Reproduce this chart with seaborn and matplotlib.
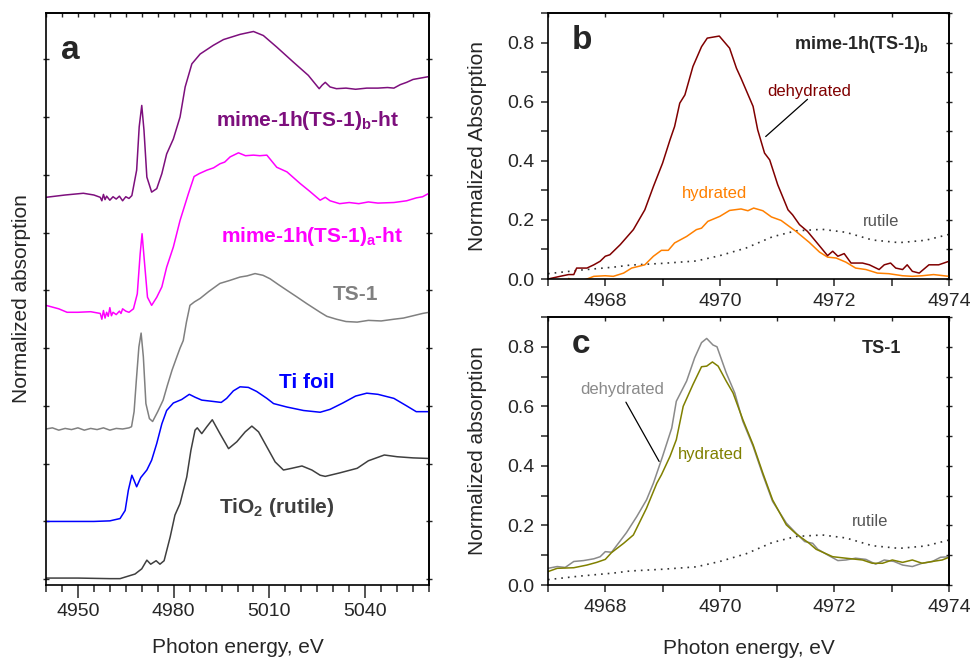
import numpy as np
import pandas as pd
import matplotlib
matplotlib.use("Agg")
import matplotlib.pyplot as plt
from matplotlib.ticker import MultipleLocator, FixedLocator, NullFormatter, FormatStrFormatter
import seaborn as sns

# ---------------- data: panel a (Ti K-edge XANES, offset curves) ----------------
rutile_a_E = [4940, 4950, 4960, 4963.2, 4967.9, 4970.0, 4971.6, 4972.8, 4974.5, 4975.7, 4977.0,
              4978.9, 4980.4, 4982.0, 4984.1, 4985.4, 4986.7, 4987.4, 4988.8, 4990.4, 4992.1,
              4994.5, 4997.2, 4999.8, 5002.4, 5004.5, 5006.6, 5009.2, 5011.8, 5014.4, 5017.0,
              5020.2, 5023.3, 5025.9, 5027.5, 5032, 5037.5, 5041, 5046, 5050, 5055, 5060]
rutile_a_y = [0.02, 0.02, 0.01, 0.01, 0.09, 0.18, 0.33, 0.26, 0.32, 0.26, 0.32,
              0.73, 1.11, 1.31, 1.77, 2.23, 2.58, 2.62, 2.52, 2.64, 2.76,
              2.52, 2.26, 2.38, 2.55, 2.65, 2.55, 2.29, 2.03, 1.89, 1.92,
              1.96, 1.89, 1.8, 1.78, 1.84, 1.92, 2.05, 2.15, 2.12, 2.1, 2.09]

tifoil_E = [4940, 4955, 4960, 4963.2, 4964.8, 4965.8, 4966.9, 4967.6, 4968.4, 4969.7, 4971.6,
            4973.1, 4974.7, 4976.3, 4977.8, 4979.9, 4982.5, 4984.9, 4986.7, 4988.8, 4991.9,
            4994.9, 4996.6, 4998.7, 5000.8, 5003.4, 5006.0, 5009.2, 5011.3, 5015.5, 5020.7,
            5025.9, 5029, 5033, 5037, 5040.5, 5044, 5049, 5053, 5056, 5060]
tifoil_y = [1.0, 1.0, 1.01, 1.05, 1.19, 1.54, 1.8, 1.71, 1.6, 1.76, 1.89,
            2.06, 2.35, 2.69, 2.92, 3.05, 3.11, 3.2, 3.15, 3.1, 3.08,
            3.06, 3.13, 3.26, 3.33, 3.32, 3.25, 3.13, 3.04, 2.98, 2.92,
            2.89, 2.94, 3.05, 3.17, 3.22, 3.2, 3.13, 3.0, 2.9, 2.9]

ts1_E = [4940, 4942, 4944, 4946, 4948, 4950, 4952, 4954, 4956, 4958, 4960, 4962, 4964, 4966,
         4966.8, 4967.6, 4968.3, 4969.1, 4969.8, 4970.5, 4971.3, 4972.4, 4973.4, 4975, 4976.7,
         4978, 4979.5, 4981, 4982, 4983.0, 4984.0, 4985.1, 4986.5, 4988.3, 4991, 4994.5,
         4997.5, 5000.8, 5003, 5005.5, 5008, 5010.2, 5012.8, 5015.5, 5018.5, 5021.7, 5025.9,
         5028, 5031, 5034, 5037.5, 5041, 5045, 5049, 5052, 5055, 5058, 5060]
ts1_y = [2.6, 2.62, 2.58, 2.61, 2.59, 2.62, 2.58, 2.61, 2.59, 2.62, 2.58, 2.61, 2.6, 2.62,
         2.64, 2.9, 3.44, 4.02, 4.26, 3.85, 3.04, 2.78, 2.73, 2.9, 3.1,
         3.35, 3.62, 3.85, 4.0, 4.13, 4.45, 4.74, 4.8, 4.86, 4.98, 5.12,
         5.17, 5.23, 5.25, 5.29, 5.26, 5.2, 5.1, 5.0, 4.89, 4.77, 4.62,
         4.55, 4.5, 4.46, 4.45, 4.48, 4.47, 4.5, 4.52, 4.56, 4.6, 4.62]

mimea_E = [4940, 4944, 4946.6, 4950, 4954, 4957, 4957.5, 4958, 4958.5, 4959, 4959.5, 4960,
           4960.5, 4961, 4962, 4963, 4963.5, 4964, 4965, 4966, 4967.4, 4968.6, 4969.5,
           4970.1, 4970.8, 4971.8, 4973.1, 4974.7, 4976.3, 4977.8, 4979.9, 4982.0, 4984.6,
           4986.4, 4988, 4990.4, 4992.5, 4994.5, 4996, 4997.7, 5000.3, 5002.5, 5005.0, 5007,
           5009.2, 5012.3, 5015.5, 5019.6, 5022.5, 5025.9, 5027.5, 5029, 5032, 5035, 5038,
           5041, 5044, 5049, 5053, 5056, 5058, 5060]
mimea_y = [4.74, 4.68, 4.62, 4.62, 4.63, 4.6, 4.5, 4.65, 4.52, 4.62, 4.55, 4.7,
           4.56, 4.62, 4.58, 4.64, 4.6, 4.68, 4.64, 4.62, 4.68, 4.94, 5.63,
           5.98, 5.52, 4.88, 4.74, 4.88, 5.06, 5.4, 5.75, 6.21, 6.67,
           6.97, 7.02, 7.08, 7.12, 7.19, 7.22, 7.31, 7.38, 7.33, 7.34, 7.33,
           7.34, 7.13, 7.05, 6.85, 6.72, 6.56, 6.61, 6.55, 6.5, 6.52, 6.5,
           6.53, 6.51, 6.52, 6.55, 6.6, 6.62, 6.68]

mimeb_E = [4940, 4946, 4951.7, 4955, 4957, 4957.5, 4958, 4958.5, 4959, 4960, 4961, 4962, 4963,
           4964, 4965, 4966, 4966.9, 4968.4, 4969.2, 4970.0, 4970.7, 4971.6, 4973.1, 4974.7,
           4976.3, 4977.8, 4979.9, 4982.0, 4983.6, 4985.7, 4988.3, 4992.4, 4995.6, 5000.8,
           5005.0, 5008.1, 5012.3, 5017.5, 5022.2, 5024.7, 5025.6, 5026.5, 5027.5, 5029, 5031,
           5034, 5037, 5040.5, 5044, 5047, 5049, 5051, 5053, 5055, 5058, 5060]
mimeb_y = [6.61, 6.65, 6.68, 6.65, 6.61, 6.55, 6.66, 6.57, 6.63, 6.56, 6.62, 6.58, 6.63,
           6.55, 6.62, 6.59, 6.64, 7.08, 7.83, 8.2, 7.77, 6.96, 6.7, 6.76,
           7.02, 7.36, 7.62, 8.0, 8.52, 8.92, 9.09, 9.24, 9.34, 9.43,
           9.48, 9.41, 9.21, 8.95, 8.72, 8.55, 8.49, 8.55, 8.6, 8.52, 8.49,
           8.5, 8.48, 8.5, 8.5, 8.51, 8.5, 8.56, 8.6, 8.65, 8.68, 8.7]

# ---------------- data: pre-edge region, panels b and c ----------------
rut_E = [4967, 4967.56, 4968.14, 4968.43, 4969.01, 4969.59, 4970, 4970.46, 4970.92, 4971.33,
         4971.79, 4972.2, 4972.66, 4973.13, 4973.59, 4974]
rut_y = [0.018, 0.03, 0.04, 0.047, 0.053, 0.061, 0.079, 0.105, 0.143, 0.163,
         0.168, 0.158, 0.132, 0.123, 0.131, 0.151]

b_deh_E = [4967, 4967.21, 4967.36, 4967.45, 4967.5, 4967.68, 4967.8, 4967.91, 4968.0, 4968.08,
           4968.26, 4968.49, 4968.69, 4968.84, 4969.0, 4969.13, 4969.21, 4969.3, 4969.39, 4969.53,
           4969.68, 4969.78, 4969.99, 4970.17, 4970.29, 4970.37, 4970.58, 4970.66, 4970.78,
           4970.87, 4971.01, 4971.19, 4971.27, 4971.39, 4971.53, 4971.65, 4971.77, 4971.88,
           4971.97, 4972.06, 4972.17, 4972.29, 4972.49, 4972.61, 4972.78, 4972.87, 4972.98,
           4973.07, 4973.19, 4973.27, 4973.36, 4973.48, 4973.65, 4973.82, 4973.91, 4974.0]
b_deh_y = [0.0, 0.009, 0.015, 0.015, 0.037, 0.037, 0.048, 0.06, 0.077, 0.082,
           0.116, 0.167, 0.234, 0.313, 0.392, 0.471, 0.516, 0.595, 0.623, 0.719,
           0.786, 0.815, 0.822, 0.781, 0.713, 0.679, 0.584, 0.505, 0.426,
           0.403, 0.319, 0.234, 0.217, 0.184, 0.161, 0.133, 0.105, 0.079,
           0.094, 0.077, 0.086, 0.054, 0.054, 0.048, 0.032, 0.048, 0.054,
           0.037, 0.032, 0.048, 0.026, 0.02, 0.048, 0.048, 0.054, 0.06]

b_hyd_E = [4967.36, 4967.42, 4967.6, 4967.68, 4967.8, 4968.0, 4968.14, 4968.32, 4968.46, 4968.69,
           4968.84, 4968.98, 4969.1, 4969.21, 4969.42, 4969.59, 4969.68, 4969.79, 4970.0,
           4970.17, 4970.37, 4970.49, 4970.59, 4970.75, 4970.9, 4971.07, 4971.33, 4971.56,
           4971.74, 4971.88, 4972.03, 4972.2, 4972.37, 4972.55, 4972.75, 4972.95, 4973.19,
           4973.36, 4973.53, 4973.73, 4974]
b_hyd_y = [0.002, -0.005, -0.005, 0.0, 0.009, 0.011, 0.009, 0.02, 0.037, 0.048,
           0.077, 0.097, 0.097, 0.122, 0.144, 0.167, 0.172, 0.195, 0.212,
           0.232, 0.237, 0.231, 0.24, 0.231, 0.21, 0.198, 0.161, 0.124,
           0.091, 0.074, 0.071, 0.057, 0.037, 0.032, 0.02, 0.018, 0.011,
           0.009, 0.011, 0.015, 0.009]

c_deh_E = [4967, 4967.16, 4967.3, 4967.45, 4967.62, 4967.8, 4967.91, 4968.0, 4968.11, 4968.26,
           4968.37, 4968.55, 4968.72, 4968.84, 4969.0, 4969.16, 4969.24, 4969.42, 4969.56,
           4969.68, 4969.77, 4969.88, 4969.95, 4970.11, 4970.26, 4970.4, 4970.58, 4970.75,
           4970.92, 4971.16, 4971.33, 4971.48, 4971.62, 4971.71, 4971.88, 4972.06, 4972.2,
           4972.37, 4972.55, 4972.72, 4972.87, 4973.04, 4973.19, 4973.36, 4973.53, 4973.71,
           4973.85, 4974]
c_deh_y = [0.056, 0.062, 0.059, 0.079, 0.082, 0.088, 0.095, 0.112, 0.11, 0.148,
           0.176, 0.23, 0.286, 0.342, 0.432, 0.527, 0.617, 0.685, 0.763,
           0.814, 0.828, 0.806, 0.8, 0.713, 0.645, 0.55, 0.466, 0.37,
           0.281, 0.208, 0.174, 0.146, 0.14, 0.12, 0.101, 0.082, 0.084,
           0.09, 0.086, 0.07, 0.084, 0.079, 0.067, 0.062, 0.073, 0.079,
           0.093, 0.095]

c_hyd_E = [4967, 4967.16, 4967.45, 4967.68, 4967.85, 4968.0, 4968.11, 4968.32, 4968.49, 4968.72,
           4968.9, 4968.98, 4969.13, 4969.24, 4969.36, 4969.53, 4969.68, 4969.77, 4969.87,
           4969.97, 4970.11, 4970.23, 4970.4, 4970.58, 4970.75, 4970.92, 4971.16, 4971.33,
           4971.56, 4971.68, 4971.97, 4972.2, 4972.49, 4972.66, 4972.84, 4973.01, 4973.19,
           4973.36, 4973.53, 4973.71, 4973.88, 4974]
c_hyd_y = [0.045, 0.056, 0.058, 0.067, 0.076, 0.086, 0.109, 0.14, 0.168, 0.258,
           0.342, 0.37, 0.432, 0.488, 0.6, 0.673, 0.733, 0.735, 0.749,
           0.735, 0.685, 0.645, 0.556, 0.471, 0.376, 0.286, 0.202, 0.172,
           0.14, 0.12, 0.095, 0.09, 0.084, 0.073, 0.073, 0.084, 0.076,
           0.084, 0.073, 0.079, 0.084, 0.093]

# ---------------- style ----------------
sns.set_style("ticks")
plt.rcParams["font.family"] = ["Liberation Sans", "DejaVu Sans"]
plt.rcParams["mathtext.fontset"] = "custom"
plt.rcParams["mathtext.rm"] = "Liberation Sans"
plt.rcParams["mathtext.bf"] = "Liberation Sans:bold"
plt.rcParams["axes.linewidth"] = 1.2
plt.rcParams["axes.edgecolor"] = "black"

fig = plt.figure(figsize=(9.71, 6.61), dpi=100)
W, H = 971, 661


def add_ax(l, t, r, b):
    return fig.add_axes([l / W, 1 - b / H, (r - l) / W, (b - t) / H])


axA = add_ax(46, 13, 429, 585)
axB = add_ax(548, 13, 949, 279)
axC = add_ax(548, 317, 949, 585)


def line(ax, E, y, color, lw=1.1, ls="-"):
    df = pd.DataFrame({"E": E, "y": y})
    sns.lineplot(data=df, x="E", y="y", ax=ax, color=color, lw=lw, linestyle=ls,
                 estimator=None, sort=False)


def mirror_ticks(ax, xmaj, xmin, ymaj, ymin):
    top = ax.secondary_xaxis("top")
    top.xaxis.set_major_locator(xmaj)
    if xmin is not None:
        top.xaxis.set_minor_locator(xmin)
    top.tick_params(axis="x", which="both", direction="in", length=3, width=1,
                    labelsize=0, labeltop=False)
    top.set_xticklabels([])
    right = ax.secondary_yaxis("right")
    right.yaxis.set_major_locator(ymaj)
    if ymin is not None:
        right.yaxis.set_minor_locator(ymin)
    right.tick_params(axis="y", which="both", direction="inout", length=4, width=1,
                      labelright=False)
    right.set_yticklabels([])


# ---------------- panel a ----------------
line(axA, rutile_a_E, rutile_a_y, "#3f3f3f")
line(axA, tifoil_E, tifoil_y, "#0000ff")
line(axA, ts1_E, ts1_y, "#808080")
line(axA, mimea_E, mimea_y, "#ff00ff")
line(axA, mimeb_E, mimeb_y, "#7d0f7d")

axA.set_xlim(4940, 5060)
axA.set_ylim(-0.1, 9.8)
axA.xaxis.set_major_locator(FixedLocator([4950, 4980, 5010, 5040]))
axA.xaxis.set_minor_locator(MultipleLocator(5))
axA.yaxis.set_major_locator(MultipleLocator(1))
axA.yaxis.set_major_formatter(NullFormatter())
axA.tick_params(axis="x", which="major", direction="out", length=9, width=1.1,
                labelsize=14, pad=4, top=False)
axA.tick_params(axis="x", which="minor", direction="out", length=5, width=1.1, top=False)
axA.tick_params(axis="y", which="major", direction="inout", length=4, width=1,
                left=True, right=False)
mirror_ticks(axA, MultipleLocator(5), None, MultipleLocator(1), None)
axA.set_xlabel("Photon energy, eV", fontsize=15)
axA.set_ylabel("Normalized absorption", fontsize=15)
axA.yaxis.set_label_coords(-0.04, 0.5)
axA.xaxis.set_label_coords(0.5, -0.092)

bold = dict(fontweight="bold", fontsize=15, ha="center", va="baseline")
axA.text(4947.5, 9.0, "a", fontsize=24, fontweight="bold", ha="center", va="baseline")
axA.text(5022, 7.84, r"mime-1h(TS-1)$_\mathregular{b}$-ht", color="#7d0f7d", **bold)
axA.text(5023.3, 5.83, r"mime-1h(TS-1)$_\mathregular{a}$-ht", color="#ff00ff", **bold)
axA.text(5036.9, 4.83, "TS-1", color="#808080", **bold)
axA.text(5021.6, 3.31, "Ti foil", color="#0000ff", **bold)
axA.text(5012.3, 1.15, r"TiO$_\mathregular{2}$ (rutile)", color="#3f3f3f", **bold)

# ---------------- panels b and c ----------------
for ax in (axB, axC):
    ax.set_xlim(4967, 4974)
    ax.set_ylim(0, 0.9)
    ax.xaxis.set_major_locator(MultipleLocator(2))
    ax.xaxis.set_minor_locator(MultipleLocator(1))
    ax.yaxis.set_major_locator(FixedLocator([0, 0.2, 0.4, 0.6, 0.8]))
    ax.yaxis.set_minor_locator(MultipleLocator(0.1))
    ax.yaxis.set_major_formatter(FormatStrFormatter("%.1f"))
    ax.tick_params(axis="both", which="major", direction="out", length=5, width=1.1,
                   labelsize=14, pad=5, top=False, right=False)
    ax.tick_params(axis="both", which="minor", direction="out", length=5, width=1.1,
                   top=False, right=False)
    mirror_ticks(ax, MultipleLocator(2), MultipleLocator(1),
                 FixedLocator([0, 0.2, 0.4, 0.6, 0.8]), MultipleLocator(0.1))
    line(ax, rut_E, rut_y, "#333333", lw=1.2, ls=(0, (1, 3)))
    ax.yaxis.set_label_coords(-0.152, 0.5)
    ax.xaxis.set_label_coords(0.5, -0.2)

line(axB, b_hyd_E, b_hyd_y, "#ff8000")
line(axB, b_deh_E, b_deh_y, "#800000")
axB.set_xlabel("")
axB.set_ylabel("Normalized Absorption", fontsize=15)
axB.text(4967.59, 0.777, "b", fontsize=24, fontweight="bold", ha="center", va="baseline")
axB.text(4972.46, 0.777, r"mime-1h(TS-1)$_\mathregular{b}$", fontsize=13, fontweight="bold",
         ha="center", va="baseline")
axB.text(4971.56, 0.62, "dehydrated", color="#800000", fontsize=12, ha="center", va="baseline")
axB.text(4969.9, 0.274, "hydrated", color="#ff8000", fontsize=12, ha="center", va="baseline")
axB.text(4972.81, 0.18, "rutile", color="#555555", fontsize=12, ha="center", va="baseline")
axB.plot([4971.53, 4970.80], [0.608, 0.482], color="black", lw=0.9)

line(axC, c_deh_E, c_deh_y, "#8a8a8a")
line(axC, c_hyd_E, c_hyd_y, "#808000")
axC.set_xlabel("Photon energy, eV", fontsize=15)
axC.set_ylabel("Normalized absorption", fontsize=15)
axC.text(4967.57, 0.78, "c", fontsize=24, fontweight="bold", ha="center", va="baseline")
axC.text(4972.82, 0.778, "TS-1", fontsize=13, fontweight="bold", ha="center", va="baseline")
axC.text(4968.29, 0.64, "dehydrated", color="#8a8a8a", fontsize=12, ha="center", va="baseline")
axC.text(4969.83, 0.423, "hydrated", color="#808000", fontsize=12, ha="center", va="baseline")
axC.text(4972.62, 0.199, "rutile", color="#555555", fontsize=12, ha="center", va="baseline")
axC.plot([4968.36, 4968.94], [0.614, 0.415], color="black", lw=0.9)

fig.savefig("out.png", dpi=100)
